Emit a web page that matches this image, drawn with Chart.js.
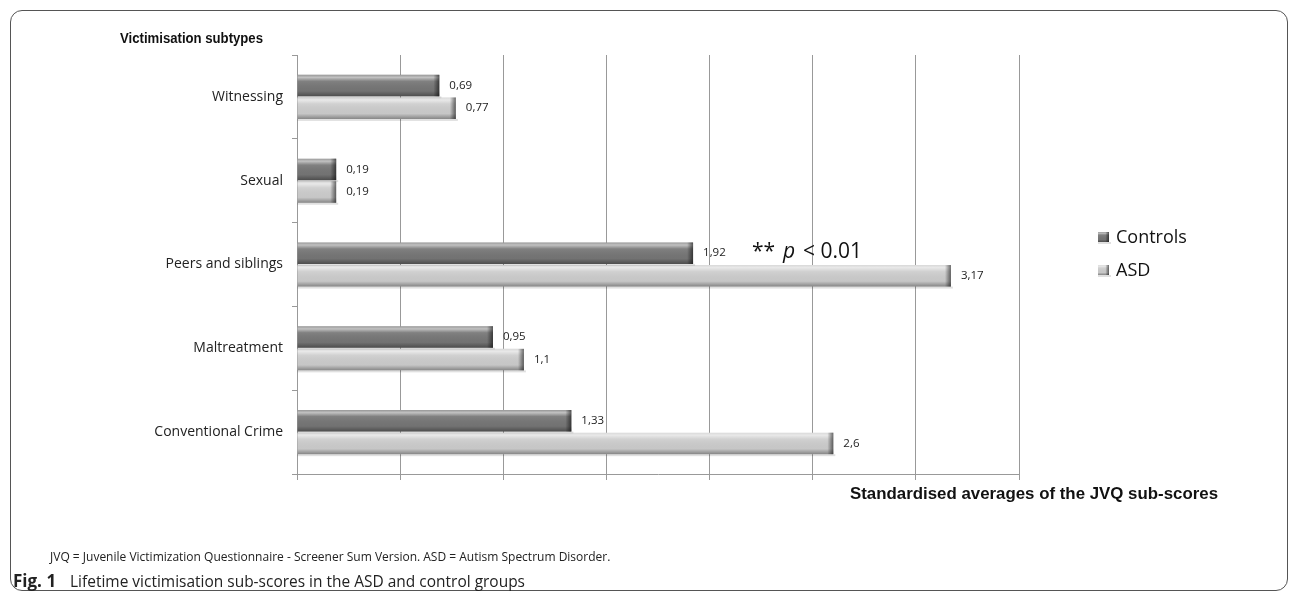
<!DOCTYPE html>
<html>
<head>
<meta charset="utf-8">
<script src="https://cdn.jsdelivr.net/npm/chart.js@4/dist/chart.umd.min.js"></script>
<style>
  body { margin: 0; background: #fff; }
  #frame { position: absolute; left: 10px; top: 10px; width: 1278px; height: 581px;
    border: 1px solid #555; border-radius: 12px; box-sizing: border-box; }
  #c { position: absolute; left: 0; top: 0; }
</style>
</head>
<body>
<div id="frame"></div>
<canvas id="c" width="1290" height="592"></canvas>
<script>
const categories = ['Witnessing', 'Sexual', 'Peers and siblings', 'Maltreatment', 'Conventional Crime'];
const controls = [0.69, 0.19, 1.92, 0.95, 1.33];
const asd = [0.77, 0.19, 3.17, 1.1, 2.6];
const seriesNames = ['Controls', 'ASD'];
const seriesColors = ['#767676', '#cdcdcd'];

// bevel look on each bar, drawn over the library's bar rectangles
function bevel(ctx, left, top, w, h) {
  let g = ctx.createLinearGradient(0, top, 0, top + h);
  g.addColorStop(0, 'rgba(255,255,255,0.25)');
  g.addColorStop(0.12, 'rgba(255,255,255,0.55)');
  g.addColorStop(0.3, 'rgba(255,255,255,0.08)');
  g.addColorStop(0.75, 'rgba(0,0,0,0.03)');
  g.addColorStop(1, 'rgba(0,0,0,0.35)');
  ctx.fillStyle = g;
  ctx.fillRect(left, top, w, h);
  let capW = Math.min(6, w / 3);
  let g2 = ctx.createLinearGradient(left + w - capW, 0, left + w, 0);
  g2.addColorStop(0, 'rgba(0,0,0,0)');
  g2.addColorStop(1, 'rgba(0,0,0,0.55)');
  ctx.fillStyle = g2;
  ctx.fillRect(left + w - capW, top, capW, h);
  ctx.fillStyle = 'rgba(0,0,0,0.12)';
  ctx.fillRect(left, top + h, w + 2, 2);
}

const decorPlugin = {
  id: 'decor',
  afterDatasetsDraw(chart) {
    const ctx = chart.ctx;
    ctx.save();
    chart.data.datasets.forEach((ds, di) => {
      const meta = chart.getDatasetMeta(di);
      meta.data.forEach((bar, i) => {
        const p = bar.getProps(['x', 'y', 'base', 'height'], true);
        const top = p.y - p.height / 2;
        bevel(ctx, p.base, top, p.x - p.base, p.height);
        ctx.fillStyle = '#222';
        ctx.font = '11.5px "Open Sans"';
        ctx.textAlign = 'left';
        ctx.textBaseline = 'middle';
        ctx.fillText(String(ds.data[i]).replace('.', ','), p.x + 10, p.y);
      });
    });
    ctx.restore();
  },
  afterDraw(chart) {
    const ctx = chart.ctx;
    ctx.save();
    ctx.fillStyle = '#111';
    ctx.textBaseline = 'alphabetic';
    ctx.textAlign = 'left';
    ctx.font = 'bold 14px "Liberation Sans"';
    ctx.fillText('Victimisation subtypes', 120, 43, 143);
    ctx.font = 'bold 17px "Liberation Sans"';
    ctx.fillText('Standardised averages of the JVQ sub-scores', 850, 499, 368);

    // legend
    seriesNames.forEach((name, i) => {
      const y = 237 + i * 33;
      ctx.fillStyle = seriesColors[i];
      ctx.fillRect(1098, y - 5, 11, 10);
      bevel(ctx, 1098, y - 5, 11, 10);
      ctx.fillStyle = '#111';
      ctx.font = '18px "Open Sans"';
      ctx.textBaseline = 'middle';
      ctx.fillText(name, 1116, y + 1, 72);
    });

    // significance note
    ctx.textBaseline = 'alphabetic';
    ctx.font = '21px "Open Sans"';
    ctx.fillText('**', 752, 258);
    ctx.font = 'italic 21px "Open Sans"';
    ctx.fillText('p', 783, 258);
    ctx.font = '21px "Open Sans"';
    ctx.fillText('< 0.01', 803, 258);

    // footnote and caption
    ctx.fillStyle = '#222';
    ctx.font = '12px "Open Sans"';
    ctx.fillText('JVQ = Juvenile Victimization Questionnaire - Screener Sum Version. ASD = Autism Spectrum Disorder.', 50, 561, 570);
    ctx.font = 'bold 17px "Open Sans"';
    ctx.fillText('Fig. 1', 13, 587, 49);
    ctx.font = '17px "Open Sans"';
    ctx.fillText('Lifetime victimisation sub-scores in the ASD and control groups', 70, 587, 455);
    ctx.restore();
  }
};

new Chart(document.getElementById('c'), {
  type: 'bar',
  data: {
    labels: categories,
    datasets: [
      { label: seriesNames[0], data: controls, backgroundColor: seriesColors[0], borderWidth: 0 },
      { label: seriesNames[1], data: asd, backgroundColor: seriesColors[1], borderWidth: 0 }
    ]
  },
  options: {
    indexAxis: 'y',
    responsive: false,
    animation: false,
    layout: { padding: { left: 0, top: 55, right: 271, bottom: 112 } },
    datasets: { bar: { categoryPercentage: 0.54, barPercentage: 0.95 } },
    plugins: { legend: { display: false }, tooltip: { enabled: false } },
    scales: {
      x: {
        min: 0, max: 3.5,
        ticks: { stepSize: 0.5, display: false },
        grid: { color: '#999', tickLength: 6, drawTicks: true },
        border: { color: '#999' },
        afterFit(scale) { scale.height = 6; }
      },
      y: {
        grid: { drawOnChartArea: false, tickLength: 5, color: '#999', offset: true },
        border: { color: '#999' },
        ticks: { color: '#222', padding: 9, font: { family: 'Open Sans', size: 14 } },
        afterFit(scale) { scale.width = 297; }
      }
    }
  },
  plugins: [decorPlugin]
});
</script>
</body>
</html>
